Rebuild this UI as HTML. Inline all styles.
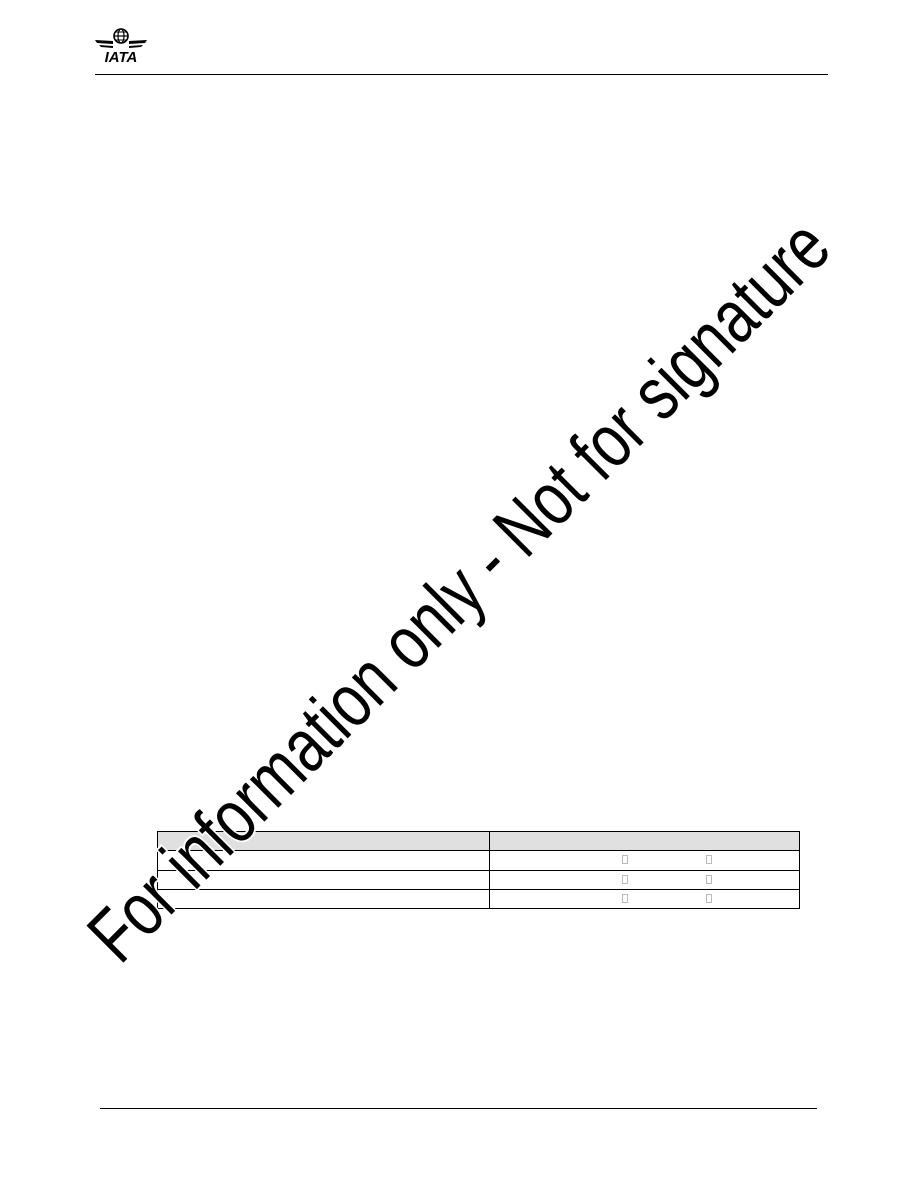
<!DOCTYPE html>
<html><head><meta charset="utf-8"><style>
html,body{margin:0;padding:0;background:#fff;}
body{width:918px;height:1188px;position:relative;overflow:hidden;font-family:"Liberation Sans",sans-serif;}
</style></head><body>
<svg width="918" height="1188" style="position:absolute;left:0;top:0">
  <g>
    <circle cx="121" cy="36" r="7" fill="none" stroke="#000" stroke-width="1.6"/>
    <ellipse cx="121" cy="36" rx="3" ry="7" fill="none" stroke="#000" stroke-width="1.2"/>
    <line x1="114" y1="36" x2="128" y2="36" stroke="#000" stroke-width="1.2"/>
    <line x1="115" y1="32" x2="127" y2="32" stroke="#000" stroke-width="1"/>
    <line x1="115" y1="40" x2="127" y2="40" stroke="#000" stroke-width="1"/>
    <polygon points="95,40 113,41 113,44 97,43" fill="#000"/>
    <polygon points="99,45 113,46 113,48 101,47" fill="#000"/>
    <polygon points="147,40 129,41 129,44 145,43" fill="#000"/>
    <polygon points="143,45 129,46 129,48 141,47" fill="#000"/>
    <text x="121" y="62" text-anchor="middle" font-family="Liberation Sans" font-weight="bold" font-style="italic" font-size="15" fill="#000">IATA</text>
  </g>
  <line x1="95" y1="74.5" x2="828" y2="74.5" stroke="#000" stroke-width="1"/>
  <line x1="100" y1="1108.5" x2="817" y2="1108.5" stroke="#000" stroke-width="1"/>
  <rect x="157.5" y="831.5" width="642" height="19" fill="#e0e0e0" stroke="#000"/>
  <rect x="157.5" y="850.5" width="642" height="58" fill="#fff" stroke="#000"/>
  <line x1="157" y1="870.5" x2="800" y2="870.5" stroke="#000"/>
  <line x1="157" y1="889.5" x2="800" y2="889.5" stroke="#000"/>
  <line x1="489.5" y1="831" x2="489.5" y2="909" stroke="#000"/>
  <g fill="none" stroke="#aaa" stroke-width="0.8">
    <rect x="622.5" y="855.5" width="5" height="8"/><rect x="706.5" y="855.5" width="5" height="8"/>
    <rect x="622.5" y="875.5" width="5" height="8"/><rect x="706.5" y="875.5" width="5" height="8"/>
    <rect x="622.5" y="894.5" width="5" height="8"/><rect x="706.5" y="894.5" width="5" height="8"/>
  </g>
  <text transform="translate(120,966) rotate(-45)" x="0" y="0" font-family="Liberation Sans" font-size="76" textLength="1010" lengthAdjust="spacingAndGlyphs" fill="#000" stroke="#fff" stroke-width="4" paint-order="stroke">For information only - Not for signature</text>
</svg>
</body></html>
